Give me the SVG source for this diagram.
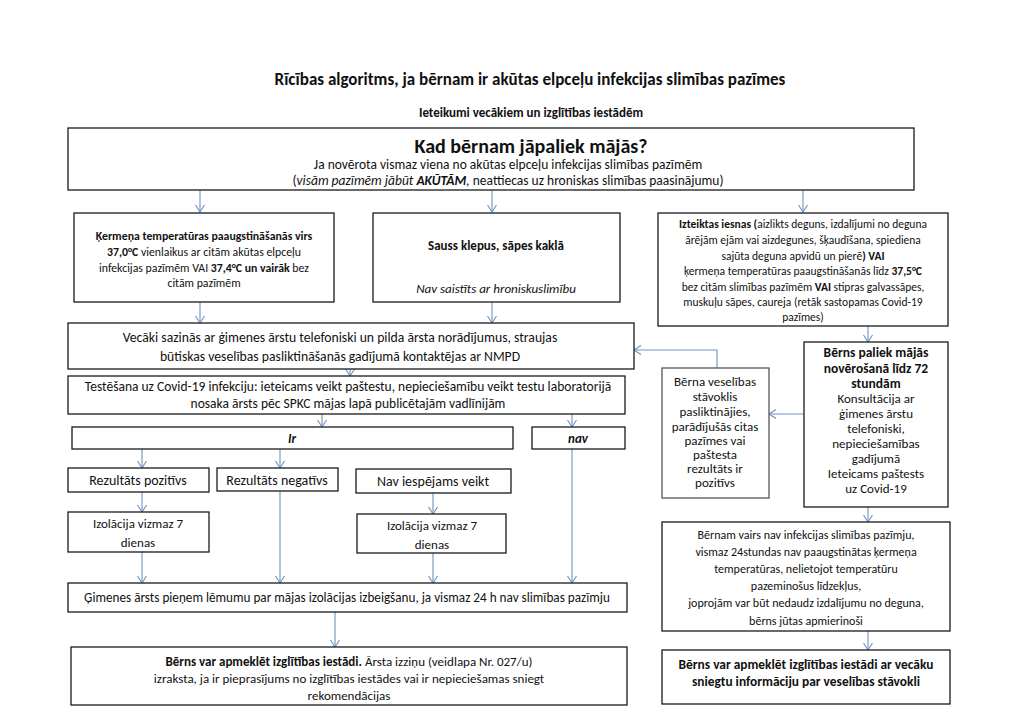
<svg xmlns="http://www.w3.org/2000/svg" width="1024" height="724" viewBox="0 0 1024 724">
<style>
text{font-family:Carlito,Lato,"Open Sans",sans-serif;font-size:13px;fill:#111;text-anchor:middle}
.b{font-weight:bold}
.i{font-style:italic}
.s{font-size:11.8px}
.sc{font-size:11.5px}
.m{font-size:13.7px}
.r{font-size:14px}
.box{fill:#fff;stroke:#1a1a1a;stroke-width:1.3}
.gbox{fill:#fff;stroke:#555;stroke-width:1.3}
.c{fill:none;stroke:#6f93c2;stroke-width:1.1}
</style>
<defs>
<marker id="ah" markerUnits="userSpaceOnUse" markerWidth="12" markerHeight="12" refX="8" refY="6" orient="auto">
<path d="M1,1.5 L8,6 L1,10.5" fill="none" stroke="#6f93c2" stroke-width="1.1"/>
</marker>
</defs>
<rect width="1024" height="724" fill="#fff"/>
<g id="title">
<text x="530" y="85" class="b" style="font-size:17px">Rīcības algoritms, ja bērnam ir akūtas elpceļu infekcijas slimības pazīmes</text>
<text x="531" y="117" class="b">Ieteikumi vecākiem un izglītības iestādēm</text>
</g>
<g id="connectors">
<path class="c" marker-end="url(#ah)" d="M200,190V212"/>
<path class="c" marker-end="url(#ah)" d="M492,190V212"/>
<path class="c" marker-end="url(#ah)" d="M803,190V212"/>
<path class="c" marker-end="url(#ah)" d="M200,302V323"/>
<path class="c" marker-end="url(#ah)" d="M492,302V323"/>
<path class="c" marker-end="url(#ah)" d="M868,326V342"/>
<path class="c" marker-end="url(#ah)" d="M350,369V376"/>
<path class="c" marker-end="url(#ah)" d="M322,414V427"/>
<path class="c" marker-end="url(#ah)" d="M572,414V427"/>
<path class="c" marker-end="url(#ah)" d="M142,449V468"/>
<path class="c" marker-end="url(#ah)" d="M280,449V468"/>
<path class="c" marker-end="url(#ah)" d="M142,492V512"/>
<path class="c" marker-end="url(#ah)" d="M433,493V514"/>
<path class="c" marker-end="url(#ah)" d="M142,552V583"/>
<path class="c" marker-end="url(#ah)" d="M280,491V583"/>
<path class="c" marker-end="url(#ah)" d="M433,553V583"/>
<path class="c" marker-end="url(#ah)" d="M572,449V583"/>
<path class="c" marker-end="url(#ah)" d="M335,612V647"/>
<path class="c" marker-end="url(#ah)" d="M804,414H769"/>
<path class="c" marker-end="url(#ah)" d="M717,368V350H634"/>
<path class="c" marker-end="url(#ah)" d="M868,507V522"/>
<path class="c" marker-end="url(#ah)" d="M868,631V650"/>
</g>
<g id="n-main">
<rect class="box" x="68" y="128" width="846" height="62"/>
<text x="531" y="153" class="b" style="font-size:20px">Kad bērnam jāpaliek mājās?</text>
<text x="508" y="169" style="font-size:13.5px">Ja novērota vismaz viena no akūtas elpceļu infekcijas slimības pazīmēm</text>
<text x="508" y="185" style="font-size:13.5px">(<tspan class="i">visām pazīmēm jābūt </tspan><tspan class="i b">AKŪTĀM</tspan><tspan class="i">,</tspan> neattiecas uz hroniskas slimības paasinājumu)</text>
</g>
<g id="n-temp">
<rect class="box" x="74" y="213" width="260" height="89"/>
<text x="204" y="240" class="b s">Ķermeņa temperatūras paaugstināšanās virs</text>
<text x="204" y="256" class="s"><tspan class="b">37,0°C</tspan> vienlaikus ar citām akūtas elpceļu</text>
<text x="204" y="272" class="s">infekcijas pazīmēm VAI <tspan class="b">37,4°C un vairāk</tspan> bez</text>
<text x="204" y="287" class="s">citām pazīmēm</text>
</g>
<g id="n-klepus">
<rect class="box" x="373" y="213" width="247" height="89"/>
<text x="496" y="250" class="b">Sauss klepus, sāpes kaklā</text>
<text x="496" y="293" class="i">Nav saistīts ar hroniskuslimību</text>
</g>
<g id="n-iesnas">
<rect class="box" x="658" y="213" width="290" height="113"/>
<text x="803" y="228" class="sc"><tspan class="b">Izteiktas iesnas (</tspan>aizlikts deguns, izdalījumi no deguna</text>
<text x="803" y="244" class="sc">ārējām ejām vai aizdegunes, šķaudīšana, spiediena</text>
<text x="803" y="260" class="sc">sajūta deguna apvidū un pierē<tspan class="b">) VAI</tspan></text>
<text x="803" y="275" class="sc">ķermeņa temperatūras paaugstināšanās līdz <tspan class="b">37,5°C</tspan></text>
<text x="803" y="291" class="sc">bez citām slimības pazīmēm <tspan class="b">VAI</tspan> stipras galvassāpes,</text>
<text x="803" y="306" class="sc">muskuļu sāpes, caureja (retāk sastopamas Covid-19</text>
<text x="803" y="321" class="sc">pazīmes)</text>
</g>
<g id="n-vecaki">
<rect class="box" x="68" y="323" width="566" height="46"/>
<text x="340" y="342" class="m">Vecāki sazinās ar ģimenes ārstu telefoniski un pilda ārsta norādījumus, straujas</text>
<text x="340" y="361" class="m">būtiskas veselības pasliktināšanās gadījumā kontaktējas ar NMPD</text>
</g>
<g id="n-testesana">
<rect class="box" x="68" y="376" width="557" height="38"/>
<text x="348" y="391" style="font-size:13.5px">Testēšana uz Covid-19 infekciju: ieteicams veikt paštestu, nepieciešamību veikt testu laboratorijā</text>
<text x="348" y="408" style="font-size:13.5px">nosaka ārsts pēc SPKC mājas lapā publicētajām vadlīnijām</text>
</g>
<g id="n-ir">
<rect class="box" x="72" y="427" width="441" height="22"/>
<text x="292" y="443" class="b i">Ir</text>
</g>
<g id="n-nav">
<rect class="box" x="532" y="427" width="93" height="22"/>
<text x="578" y="443" class="b i">nav</text>
</g>
<g id="n-pozitivs">
<rect class="box" x="68" y="468" width="141" height="24"/>
<text x="138" y="485" class="r">Rezultāts pozitīvs</text>
</g>
<g id="n-negativs">
<rect class="box" x="217" y="468" width="121" height="23"/>
<text x="277" y="485" class="r">Rezultāts negatīvs</text>
</g>
<g id="n-naviesp">
<rect class="box" x="356" y="469" width="155" height="24"/>
<text x="433" y="486" class="r">Nav iespējams veikt</text>
</g>
<g id="n-izolacija1">
<rect class="box" x="68" y="512" width="141" height="40"/>
<text x="138" y="528">Izolācija vizmaz 7</text>
<text x="138" y="547">dienas</text>
</g>
<g id="n-izolacija2">
<rect class="box" x="357" y="514" width="149" height="39"/>
<text x="432" y="530">Izolācija vizmaz 7</text>
<text x="432" y="549">dienas</text>
</g>
<g id="n-gimenes">
<rect class="box" x="68" y="583" width="559" height="29"/>
<text x="347" y="602" style="font-size:13.2px">Ģimenes ārsts pieņem lēmumu par mājas izolācijas izbeigšanu, ja vismaz 24 h nav slimības pazīmju</text>
</g>
<g id="n-apmeklet1">
<rect class="box" x="71" y="647" width="556" height="58"/>
<text x="349" y="666"><tspan class="b">Bērns var apmeklēt izglītības iestādi.</tspan> Ārsta izziņu (veidlapa Nr. 027/u)</text>
<text x="349" y="683">izraksta, ja ir pieprasījums no izglītības iestādes vai ir nepieciešamas sniegt</text>
<text x="349" y="700">rekomendācijas</text>
</g>
<g id="n-berna">
<rect class="gbox" x="662" y="368" width="107" height="130"/>
<text x="715" y="386">Bērna veselības</text>
<text x="715" y="401">stāvoklis</text>
<text x="715" y="416">pasliktinājies,</text>
<text x="715" y="431">parādījušās citas</text>
<text x="715" y="445">pazīmes vai</text>
<text x="715" y="459">paštesta</text>
<text x="715" y="473">rezultāts ir</text>
<text x="715" y="487">pozitīvs</text>
</g>
<g id="n-paliek">
<rect class="box" x="804" y="342" width="144" height="165"/>
<text x="876" y="357" class="b" style="font-size:13.5px">Bērns paliek mājās</text>
<text x="876" y="372.5" class="b" style="font-size:13.5px">novērošanā līdz 72</text>
<text x="876" y="388" class="b" style="font-size:13.5px">stundām</text>
<text x="876" y="403">Konsultācija ar</text>
<text x="876" y="418">ģimenes ārstu</text>
<text x="876" y="433">telefoniski,</text>
<text x="876" y="448">nepieciešamības</text>
<text x="876" y="463">gadījumā</text>
<text x="876" y="478">Ieteicams paštests</text>
<text x="876" y="493">uz Covid-19</text>
</g>
<g id="n-vairsnav">
<rect class="box" x="662" y="522" width="288" height="109"/>
<text x="806" y="539" style="font-size:12px">Bērnam vairs nav infekcijas slimības pazīmju,</text>
<text x="806" y="556" style="font-size:12px">vismaz 24stundas nav paaugstinātas ķermeņa</text>
<text x="806" y="573" style="font-size:12px">temperatūras, nelietojot temperatūru</text>
<text x="806" y="590" style="font-size:12px">pazeminošus līdzekļus,</text>
<text x="806" y="607" style="font-size:12px">joprojām var būt nedaudz izdalījumu no deguna,</text>
<text x="806" y="625" style="font-size:12px">bērns jūtas apmierinoši</text>
</g>
<g id="n-apmeklet2">
<rect class="box" x="662" y="650" width="288" height="54"/>
<text x="806" y="669" class="b" style="font-size:13.4px">Bērns var apmeklēt izglītības iestādi ar vecāku</text>
<text x="806" y="686" class="b" style="font-size:13.4px">sniegtu informāciju par veselības stāvokli</text>
</g>
</svg>
